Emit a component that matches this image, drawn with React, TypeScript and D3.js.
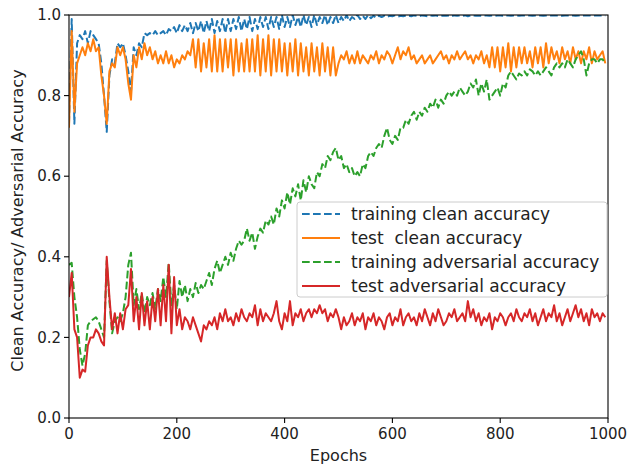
import React from 'react';
import * as d3 from 'd3';

// epochs sampled every 5
const epochs = d3.range(0, 1000, 5);

const trainClean = [
  0.73, 0.99, 0.73, 0.93, 0.95, 0.94, 0.96, 0.93, 0.96, 0.95,
  0.94, 0.93, 0.88, 0.80, 0.71, 0.85, 0.89, 0.88, 0.93, 0.92,
  0.93, 0.90, 0.86, 0.81, 0.92, 0.90, 0.93, 0.92, 0.955, 0.95,
  0.955, 0.95, 0.96, 0.95, 0.955, 0.96, 0.95, 0.965, 0.96, 0.97,
  0.955, 0.975, 0.96, 0.975, 0.96, 0.98, 0.955, 0.98, 0.96, 0.985,
  0.955, 0.985, 0.96, 0.99, 0.955, 0.985, 0.96, 0.99, 0.955, 0.99,
  0.96, 0.99, 0.965, 0.995, 0.96, 0.99, 0.965, 0.995, 0.96, 0.99,
  0.965, 0.995, 0.97, 0.995, 0.965, 0.995, 0.97, 0.995, 0.965, 1.0,
  0.97, 0.995, 0.97, 1.0, 0.975, 0.995, 0.97, 1.0, 0.975, 0.995,
  0.97, 1.0, 0.975, 0.995, 0.98, 1.0, 0.975, 0.995, 0.98, 1.0,
  0.98, 0.995, 0.985, 1.0, 0.985, 0.995, 0.99, 1.0, 0.99, 0.998,
  0.99, 1.0, 0.992, 0.998, 0.993, 0.998, 0.995, 0.998, 0.995, 0.998,
  0.997, 0.999, 0.996, 0.998, 0.997, 0.999, 0.998, 0.997, 0.999, 0.998,
  0.997, 0.999, 0.998, 0.997, 0.999, 0.998, 0.999, 0.997, 0.998, 0.999,
  0.998, 0.999, 0.997, 0.999, 0.998, 0.999, 0.998, 0.999, 0.997, 0.999,
  0.999, 0.998, 0.999, 0.998, 0.999, 0.999, 0.998, 0.999, 0.998, 0.999,
  0.999, 0.998, 0.999, 0.999, 0.998, 0.999, 0.999, 0.998, 0.999, 0.999,
  0.999, 0.999, 0.998, 0.999, 0.999, 0.999, 0.998, 0.999, 0.999, 0.999,
  0.999, 0.999, 0.999, 0.998, 0.999, 0.999, 0.999, 0.999, 0.998, 0.999,
  0.999, 0.999, 0.999, 0.999, 0.998, 0.999, 0.999, 0.999, 0.999, 0.999,
];

const testClean = [
  0.72, 0.96, 0.76, 0.88, 0.90, 0.92, 0.90, 0.93, 0.91, 0.94,
  0.91, 0.92, 0.85, 0.80, 0.73, 0.86, 0.88, 0.87, 0.92, 0.90,
  0.92, 0.89, 0.83, 0.79, 0.90, 0.87, 0.92, 0.89, 0.93, 0.90,
  0.92, 0.89, 0.91, 0.88, 0.90, 0.88, 0.91, 0.88, 0.90, 0.87,
  0.89, 0.88, 0.90, 0.89, 0.91, 0.90, 0.94, 0.87, 0.94, 0.86,
  0.93, 0.87, 0.94, 0.86, 0.95, 0.86, 0.94, 0.86, 0.94, 0.87,
  0.94, 0.85, 0.94, 0.86, 0.93, 0.86, 0.94, 0.86, 0.94, 0.86,
  0.95, 0.85, 0.94, 0.86, 0.95, 0.85, 0.94, 0.86, 0.94, 0.86,
  0.93, 0.85, 0.93, 0.86, 0.94, 0.85, 0.93, 0.86, 0.92, 0.85,
  0.93, 0.86, 0.92, 0.85, 0.93, 0.86, 0.92, 0.85, 0.92, 0.85,
  0.88, 0.90, 0.89, 0.91, 0.88, 0.90, 0.88, 0.91, 0.88, 0.90,
  0.89, 0.88, 0.90, 0.89, 0.91, 0.88, 0.90, 0.89, 0.91, 0.90,
  0.88, 0.90, 0.92, 0.89, 0.91, 0.90, 0.92, 0.89, 0.90, 0.88,
  0.89, 0.90, 0.88, 0.89, 0.90, 0.88, 0.89, 0.90, 0.91, 0.89,
  0.90, 0.88, 0.90, 0.89, 0.91, 0.89, 0.90, 0.91, 0.89, 0.90,
  0.88, 0.90, 0.89, 0.91, 0.88, 0.90, 0.87, 0.92, 0.87, 0.92,
  0.86, 0.92, 0.87, 0.93, 0.86, 0.92, 0.87, 0.92, 0.88, 0.92,
  0.88, 0.91, 0.87, 0.92, 0.88, 0.92, 0.87, 0.93, 0.88, 0.92,
  0.89, 0.91, 0.88, 0.92, 0.89, 0.91, 0.88, 0.92, 0.89, 0.91,
  0.88, 0.91, 0.89, 0.92, 0.88, 0.91, 0.89, 0.90, 0.91, 0.88,
];

const trainAdv = [
  0.38, 0.385, 0.30, 0.25, 0.17, 0.13, 0.16, 0.23, 0.24, 0.245,
  0.25, 0.24, 0.22, 0.20, 0.39, 0.29, 0.21, 0.24, 0.25, 0.24,
  0.26, 0.30, 0.38, 0.41, 0.28, 0.32, 0.27, 0.31, 0.26, 0.30,
  0.28, 0.31, 0.27, 0.32, 0.29, 0.35, 0.30, 0.385, 0.28, 0.33,
  0.27, 0.34, 0.30, 0.33, 0.29, 0.32, 0.30, 0.335, 0.31, 0.33,
  0.32, 0.34, 0.36, 0.33, 0.37, 0.39, 0.36, 0.38, 0.40, 0.38,
  0.41, 0.39, 0.42, 0.44, 0.43, 0.44, 0.47, 0.44, 0.46, 0.42,
  0.45, 0.47, 0.46, 0.49, 0.48, 0.50, 0.48, 0.52, 0.50, 0.54,
  0.52, 0.56, 0.53, 0.57, 0.55, 0.58, 0.54, 0.59, 0.56, 0.60,
  0.58, 0.57, 0.61, 0.60, 0.63, 0.62, 0.65, 0.64, 0.66, 0.67,
  0.64, 0.65, 0.62, 0.63, 0.61, 0.62, 0.60, 0.61, 0.60, 0.63,
  0.62, 0.65, 0.66, 0.65, 0.67, 0.68, 0.67, 0.70, 0.72, 0.69,
  0.68, 0.70, 0.69, 0.72, 0.72, 0.74, 0.73, 0.75, 0.76, 0.74,
  0.76, 0.75, 0.77, 0.76, 0.78, 0.77, 0.79, 0.77, 0.79, 0.78,
  0.80, 0.81, 0.80, 0.81, 0.80, 0.82, 0.81, 0.80, 0.81, 0.83,
  0.82, 0.84, 0.80, 0.83, 0.81, 0.84, 0.79, 0.80, 0.81, 0.82,
  0.80, 0.83, 0.82, 0.85, 0.86, 0.85, 0.84, 0.855, 0.85, 0.86,
  0.85, 0.865, 0.86, 0.85, 0.86, 0.85, 0.86, 0.87, 0.86, 0.85,
  0.87, 0.88, 0.87, 0.88, 0.87, 0.89, 0.88, 0.87, 0.89, 0.90,
  0.91, 0.89, 0.85, 0.88, 0.89, 0.89, 0.88, 0.89, 0.89, 0.88,
];

const testAdv = [
  0.30, 0.36, 0.22, 0.20, 0.10, 0.12, 0.115, 0.18, 0.20, 0.20,
  0.22, 0.21, 0.19, 0.18, 0.40, 0.30, 0.22, 0.26, 0.21, 0.26,
  0.22, 0.27, 0.28, 0.37, 0.24, 0.30, 0.22, 0.31, 0.23, 0.29,
  0.22, 0.30, 0.24, 0.32, 0.23, 0.33, 0.24, 0.38, 0.21, 0.35,
  0.23, 0.27, 0.22, 0.25, 0.24, 0.22, 0.25, 0.23, 0.21, 0.19,
  0.23, 0.22, 0.24, 0.23, 0.25, 0.22, 0.26, 0.24, 0.27, 0.24,
  0.25, 0.23, 0.26, 0.24, 0.27, 0.25, 0.24, 0.26, 0.25, 0.28,
  0.23, 0.27, 0.24, 0.26, 0.25, 0.24, 0.26, 0.29, 0.24, 0.22,
  0.26, 0.24, 0.29, 0.23, 0.26, 0.25, 0.27, 0.24, 0.26, 0.27,
  0.25, 0.27, 0.26, 0.28, 0.26, 0.27, 0.24, 0.26, 0.25, 0.27,
  0.25, 0.22, 0.25, 0.23, 0.24, 0.26, 0.23, 0.25, 0.24, 0.26,
  0.22, 0.25, 0.24, 0.26, 0.23, 0.25, 0.24, 0.22, 0.25, 0.26,
  0.23, 0.25, 0.24, 0.27, 0.23, 0.25, 0.26, 0.24, 0.25, 0.23,
  0.26, 0.24, 0.27, 0.25, 0.23, 0.26, 0.24, 0.27, 0.25, 0.23,
  0.24, 0.26, 0.25, 0.27, 0.24, 0.25, 0.26, 0.24, 0.29, 0.25,
  0.27, 0.24, 0.26, 0.23, 0.25, 0.24, 0.26, 0.22, 0.25, 0.24,
  0.26, 0.25, 0.23, 0.25, 0.26, 0.24, 0.27, 0.25, 0.24, 0.26,
  0.25, 0.27, 0.24, 0.26, 0.23, 0.25, 0.27, 0.24, 0.26, 0.25,
  0.28, 0.24, 0.26, 0.23, 0.25, 0.27, 0.24, 0.26, 0.28, 0.25,
  0.27, 0.24, 0.26, 0.23, 0.27, 0.25, 0.26, 0.24, 0.26, 0.25,
];

const xTicks = [0, 200, 400, 600, 800, 1000];
const yTicks = [0.0, 0.2, 0.4, 0.6, 0.8, 1.0];

const series = [
  { label: 'training clean accuracy', values: trainClean, color: '#1f77b4', dashed: true },
  { label: 'test  clean accuracy', values: testClean, color: '#ff7f0e', dashed: false },
  { label: 'training adversarial accuracy', values: trainAdv, color: '#2ca02c', dashed: true },
  { label: 'test adversarial accuracy', values: testAdv, color: '#d62728', dashed: false },
];

const W = 631;
const H = 464;
const margin = { left: 69, right: 23, top: 15, bottom: 46 };
const font = '"DejaVu Sans", sans-serif';

export default function App() {
  const innerW = W - margin.left - margin.right;
  const innerH = H - margin.top - margin.bottom;

  const x = d3.scaleLinear().domain([0, 1000]).range([0, innerW]);
  const y = d3.scaleLinear().domain([0, 1]).range([innerH, 0]);

  const line = (vals: number[]) =>
    d3.line<number>()
      .x((_, i) => x(epochs[i]))
      .y(d => y(d))(vals) || '';

  const legX = 297 - margin.left;
  const legY = 202 - margin.top;
  const rowH = 24;

  return (
    <svg width={W} height={H} style={{ position: 'absolute', left: 0, top: 0, background: '#fff' }}
      fontFamily={font}>
      <defs>
        <clipPath id="plotArea">
          <rect x={0} y={0} width={innerW} height={innerH} />
        </clipPath>
      </defs>
      <g transform={`translate(${margin.left},${margin.top})`}>
        <g clipPath="url(#plotArea)">
          {series.map(s => (
            <path key={s.label} d={line(s.values)} fill="none" stroke={s.color}
              strokeWidth={2} strokeDasharray={s.dashed ? '7.7,3.3' : undefined}
              strokeLinejoin="round" />
          ))}
        </g>

        {/* spines */}
        <rect x={0} y={0} width={innerW} height={innerH} fill="none" stroke="#000" strokeWidth={1.1} />

        {xTicks.map(t => (
          <g key={t} transform={`translate(${x(t)},${innerH})`}>
            <line y2={5} stroke="#000" strokeWidth={1.1} />
            <text y={21} textAnchor="middle" fontSize={15} fill="#222">{t}</text>
          </g>
        ))}
        {yTicks.map(t => (
          <g key={t} transform={`translate(0,${y(t)})`}>
            <line x2={-5} stroke="#000" strokeWidth={1.1} />
            <text x={-8} dy="0.35em" textAnchor="end" fontSize={15} fill="#222">{t.toFixed(1)}</text>
          </g>
        ))}

        {/* legend */}
        <rect x={legX} y={legY} width={310} height={95} rx={3} fill="rgba(255,255,255,0.8)"
          stroke="#cccccc" strokeWidth={1} />
        {series.map((s, i) => (
          <g key={s.label} transform={`translate(${legX},${legY + 12 + i * rowH})`}>
            <line x1={5} x2={43} stroke={s.color} strokeWidth={2}
              strokeDasharray={s.dashed ? '7.7,3.3' : undefined} />
            <text x={54} dy="0.35em" fontSize={17} fill="#222" style={{ whiteSpace: 'pre' }}>{s.label}</text>
          </g>
        ))}
      </g>

      <text x={margin.left + innerW / 2} y={461} textAnchor="middle" fontSize={16} fill="#222">Epochs</text>
      <text transform={`translate(23,${margin.top + innerH / 2 + 4}) rotate(-90)`} textAnchor="middle"
        fontSize={16} fill="#222">Clean Accuracy/ Adversarial Accuracy</text>
    </svg>
  );
}
